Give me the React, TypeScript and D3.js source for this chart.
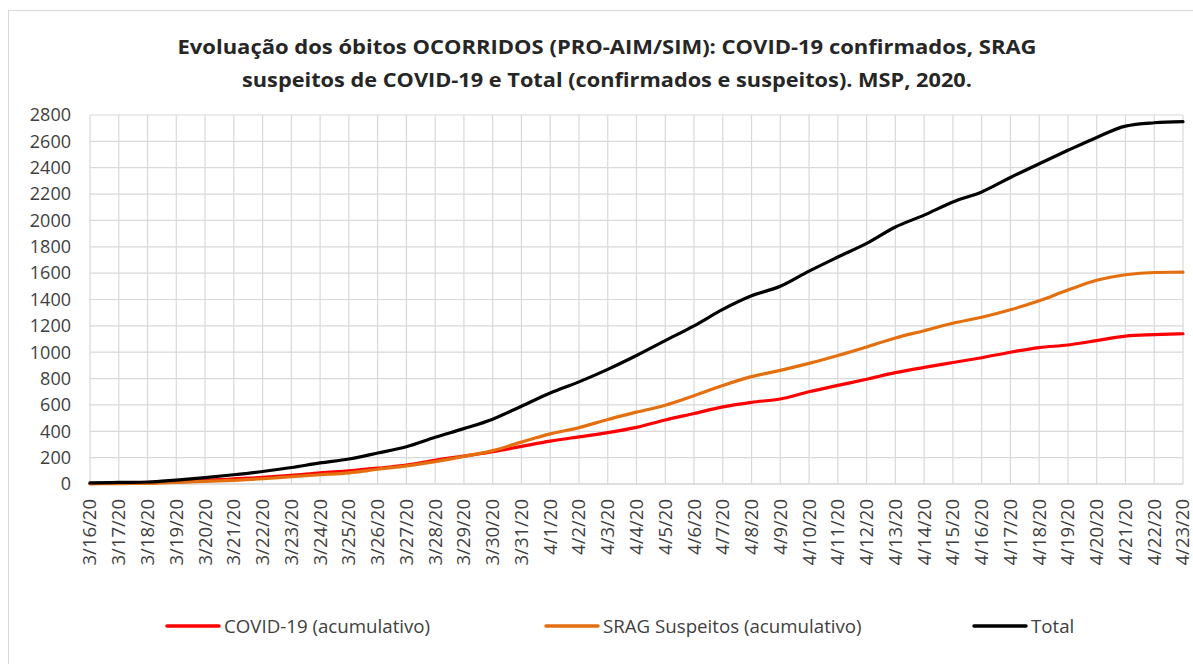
import * as d3 from 'd3'

const width = 1193,
      height = 664,
      margin = { top: 115, right: 10, bottom: 180, left: 90 },
      plotRight = 1183,
      plotBottom = 484

const dates = [
  '3/16/20', '3/17/20', '3/18/20', '3/19/20', '3/20/20', '3/21/20', '3/22/20', '3/23/20',
  '3/24/20', '3/25/20', '3/26/20', '3/27/20', '3/28/20', '3/29/20', '3/30/20', '3/31/20',
  '4/1/20', '4/2/20', '4/3/20', '4/4/20', '4/5/20', '4/6/20', '4/7/20', '4/8/20',
  '4/9/20', '4/10/20', '4/11/20', '4/12/20', '4/13/20', '4/14/20', '4/15/20', '4/16/20',
  '4/17/20', '4/18/20', '4/19/20', '4/20/20', '4/21/20', '4/22/20', '4/23/20'
]

const covid = [
  3, 5, 8, 15, 25, 40, 50, 65, 85, 100, 120, 143, 180, 212, 245, 285,
  325, 358, 390, 430, 486, 535, 585, 620, 645, 700, 748, 795, 845, 885, 922, 958,
  1000, 1035, 1055, 1088, 1122, 1133, 1140
]

const srag = [
  2, 3, 5, 12, 20, 28, 40, 55, 70, 85, 112, 138, 170, 210, 253, 318,
  380, 428, 490, 545, 598, 670, 748, 815, 862, 915, 975, 1040, 1108, 1163, 1220, 1265,
  1322, 1390, 1472, 1546, 1588, 1605, 1607
]

const total = [
  8, 12, 15, 30, 48, 70, 95, 125, 160, 190, 235, 283, 355, 420, 492, 590,
  690, 775, 870, 975, 1088, 1200, 1325, 1428, 1500, 1615, 1722, 1826, 1950, 2040, 2140, 2216,
  2326, 2430, 2532, 2630, 2716, 2741, 2749
]

const yTicks = [0, 200, 400, 600, 800, 1000, 1200, 1400, 1600, 1800, 2000, 2200, 2400, 2600, 2800]

const series = [
  { name: 'COVID-19 (acumulativo)', values: covid, color: '#ff0000', lx: 167 },
  { name: 'SRAG Suspeitos (acumulativo)', values: srag, color: '#e46f0e', lx: 546 },
  { name: 'Total', values: total, color: '#000000', lx: 974 }
]

const font = '"Open Sans", "Liberation Sans", sans-serif'

export default function App() {
  const x = d3.scalePoint<string>()
    .domain(dates)
    .range([margin.left, plotRight])

  const y = d3.scaleLinear()
    .domain([0, 2800])
    .range([plotBottom, margin.top])

  const makeLine = (vals: number[]) =>
    d3.line<number>()
      .x((d, i) => x(dates[i]) as number)
      .y(d => y(d))
      .curve(d3.curveMonotoneX)(vals)

  return (
    <svg width={width} height={height}
         style={{ position: 'absolute', left: 0, top: 0, background: '#fff', fontFamily: font }}>
      <rect x={8.5} y={10.5} width={1200} height={700} fill='#fff' stroke='#d9d9d9' />

      {/* title */}
      <text x={607} y={54} textAnchor='middle' fontSize={20} fontWeight='bold' fill='#262626'
            textLength={859} lengthAdjust='spacingAndGlyphs'>
        Evoluação dos óbitos OCORRIDOS (PRO-AIM/SIM): COVID-19 confirmados, SRAG
      </text>
      <text x={607} y={87} textAnchor='middle' fontSize={20} fontWeight='bold' fill='#262626'
            textLength={730} lengthAdjust='spacingAndGlyphs'>
        suspeitos de COVID-19 e Total (confirmados e suspeitos). MSP, 2020.
      </text>

      {/* grid */}
      {yTicks.map(t => (
        <line key={'h' + t} x1={margin.left} x2={plotRight} y1={y(t)} y2={y(t)}
              stroke={t === 0 ? '#bfbfbf' : '#d9d9d9'} strokeWidth={1.2} />
      ))}
      {dates.map(d => (
        <line key={'v' + d} x1={x(d)} x2={x(d)} y1={margin.top} y2={plotBottom}
              stroke='#d9d9d9' strokeWidth={1.2} />
      ))}

      {/* y labels */}
      {yTicks.map(t => (
        <text key={'yl' + t} x={71} y={y(t)} dy='0.35em' textAnchor='end'
              fontSize={18} fill='#404040'>{t}</text>
      ))}

      {/* x labels */}
      {dates.map(d => (
        <text key={'xl' + d} transform={`translate(${x(d)},499) rotate(-90)`} dy='0.35em'
              textAnchor='end' fontSize={18.5} fill='#404040'>{d}</text>
      ))}

      {/* lines */}
      {series.map(s => (
        <path key={s.name} d={makeLine(s.values) || ''} fill='none' stroke={s.color}
              strokeWidth={3.2} strokeLinejoin='round' strokeLinecap='round' />
      ))}

      {/* legend */}
      {series.map(s => (
        <g key={'lg' + s.name}>
          <line x1={s.lx} x2={s.lx + 52} y1={626} y2={626} stroke={s.color}
                strokeWidth={3.5} strokeLinecap='round' />
          <text x={s.lx + 57} y={626} dy='0.35em' fontSize={18.7} fill='#404040'>{s.name}</text>
        </g>
      ))}
    </svg>
  )
}
